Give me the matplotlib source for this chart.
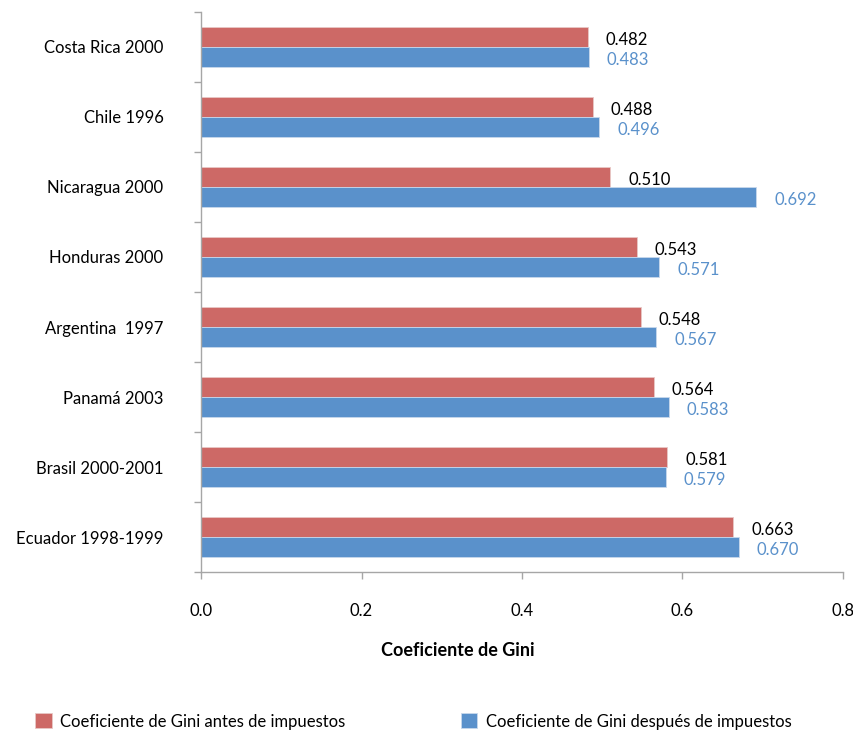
import numpy as np
import matplotlib.pyplot as plt
from matplotlib.ticker import FixedLocator

plt.rcParams['font.family'] = ['Lato', 'DejaVu Sans']

paises = ['Costa Rica 2000', 'Chile 1996', 'Nicaragua 2000', 'Honduras 2000',
          'Argentina  1997', 'Panamá 2003', 'Brasil 2000-2001', 'Ecuador 1998-1999']
gini_antes = [0.482, 0.488, 0.510, 0.543, 0.548, 0.564, 0.581, 0.663]
gini_despues = [0.483, 0.496, 0.692, 0.571, 0.567, 0.583, 0.579, 0.670]

rojo = '#CD6966'
azul = '#5A91CB'
gris = '#A6A6A6'

fig = plt.figure(figsize=(8.54, 7.30), dpi=100)
ax = fig.add_axes([0.2354, 0.2164, 0.7517, 0.7672])

y = np.arange(len(paises))
h = 0.286
ax.barh(y - h / 2, gini_antes, height=h, color=rojo, edgecolor='#E8C8C6', linewidth=0.6,
        label='Coeficiente de Gini antes de impuestos')
ax.barh(y + h / 2, gini_despues, height=h, color=azul, edgecolor='#C8D8EC', linewidth=0.6,
        label='Coeficiente de Gini después de impuestos')

# etiquetas de valor a la derecha de cada barra
for i in range(len(paises)):
    ax.annotate(f'{gini_antes[i]:.3f}', (gini_antes[i], y[i] - h / 2 + 0.04),
                xytext=(13, 0), textcoords='offset points', va='center', ha='left',
                fontsize=12, color='black')
    ax.annotate(f'{gini_despues[i]:.3f}', (gini_despues[i], y[i] + h / 2 + 0.04),
                xytext=(13, 0), textcoords='offset points', va='center', ha='left',
                fontsize=12, color=azul)

ax.set_xlim(0, 0.8)
ax.set_ylim(len(paises) - 0.5, -0.5)
ax.set_xticks([0.0, 0.2, 0.4, 0.6, 0.8])
ax.set_xticklabels(['0.0', '0.2', '0.4', '0.6', '0.8'], fontsize=12)
ax.set_yticks(y)
ax.set_yticklabels(paises, fontsize=12)
ax.yaxis.set_minor_locator(FixedLocator(np.arange(-0.5, len(paises), 1.0)))
ax.tick_params(axis='y', which='major', length=0, pad=27)
ax.tick_params(axis='y', which='minor', length=5, color=gris, width=1)
ax.tick_params(axis='x', length=5, color=gris, width=1, pad=17)

for s in ['top', 'right']:
    ax.spines[s].set_visible(False)
for s in ['left', 'bottom']:
    ax.spines[s].set_color(gris)
    ax.spines[s].set_linewidth(1)

ax.set_xlabel('Coeficiente de Gini', fontsize=13, fontweight='bold', labelpad=17, x=0.40)

fig.legend(loc='lower left', bbox_to_anchor=(0.024, -0.02), ncol=2, frameon=False,
           fontsize=12, handlelength=1.0, handleheight=1.0, handletextpad=0.5,
           columnspacing=6.9)

fig.savefig('out.png', dpi=100)
